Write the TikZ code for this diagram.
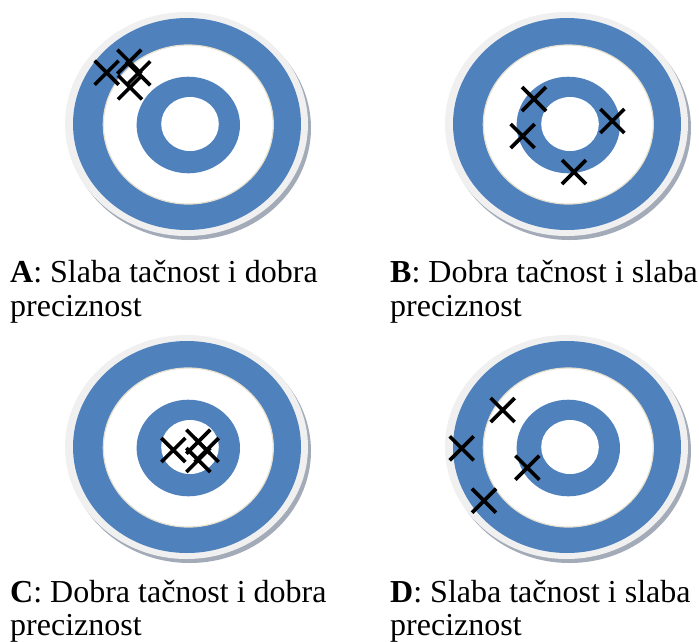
\documentclass[tikz,border=0pt]{standalone}
\usepackage{fontspec}
\setmainfont{Liberation Serif}
\definecolor{tblue}{HTML}{4F81BD}
\definecolor{tgrey}{HTML}{F0F0F0}
\definecolor{tshadow}{HTML}{A3ABB8}
\definecolor{tcream}{HTML}{E6E0CF}
\begin{document}
\begin{tikzpicture}[x=1pt,y=-1pt,
  pics/target/.style={code={
    \fill[tshadow] (2.5,4) ellipse [x radius=121.5,y radius=112];
    \fill[tgrey] (-0.5,0) ellipse [x radius=121.5,y radius=112];
    \fill[tblue] (0,0) ellipse [x radius=114,y radius=106];
    \filldraw[fill=white,draw=tcream,line width=1.2] (1.3,0.5) ellipse [x radius=85,y radius=79.5];
    \fill[tblue] (1.3,1) ellipse [x radius=51.7,y radius=48.3];
    \fill[white] (3,0) ellipse [x radius=28.8,y radius=27];
  }},
  pics/hitmark/.style={code={
    \draw[hitline] (-12,-12) -- (12,12) (-12,12) -- (12,-12);
  }},
  hitline/.style={draw=black,line width=3.6},
  caption/.style={anchor=base west,inner sep=0,font=\fontsize{32}{34}\selectfont}
]
\useasboundingbox (0,0) rectangle (699,641);

% targets
\pic (tA) at (187,124) {target};
\pic (tB) at (567,124) {target};
\pic (tC) at (187,447) {target};
\pic (tD) at (567,447) {target};

% hits A
\pic at (106.7,72.7) {hitmark};
\pic at (129.3,61.7) {hitmark};
\pic at (138.3,73.3) {hitmark};
\pic at (130,87.3) {hitmark};
% hits B
\pic at (534,99) {hitmark};
\pic at (522.7,136) {hitmark};
\pic at (612.3,121) {hitmark};
\pic at (574,172) {hitmark};
% hits C
\pic at (173.3,450) {hitmark};
\pic at (198.3,441.7) {hitmark};
\pic at (206.7,450) {hitmark};
\pic at (198.3,460) {hitmark};
% hits D
\pic at (502.7,410) {hitmark};
\pic at (461.7,448.3) {hitmark};
\pic at (527.3,467.7) {hitmark};
\pic at (484,500.7) {hitmark};

% captions
\node[caption] (capA1) at (10,282) {\textbf{A}: Slaba tačnost i dobra};
\node[caption] (capA2) at (10,316) {preciznost};
\node[caption] (capB1) at (390,282) {\textbf{B}: Dobra tačnost i slaba};
\node[caption] (capB2) at (390,316) {preciznost};
\node[caption] (capC1) at (10,602) {\textbf{C}: Dobra tačnost i dobra};
\node[caption] (capC2) at (10,635) {preciznost};
\node[caption] (capD1) at (390,602) {\textbf{D}: Slaba tačnost i slaba};
\node[caption] (capD2) at (390,635) {preciznost};
\end{tikzpicture}
\end{document}
